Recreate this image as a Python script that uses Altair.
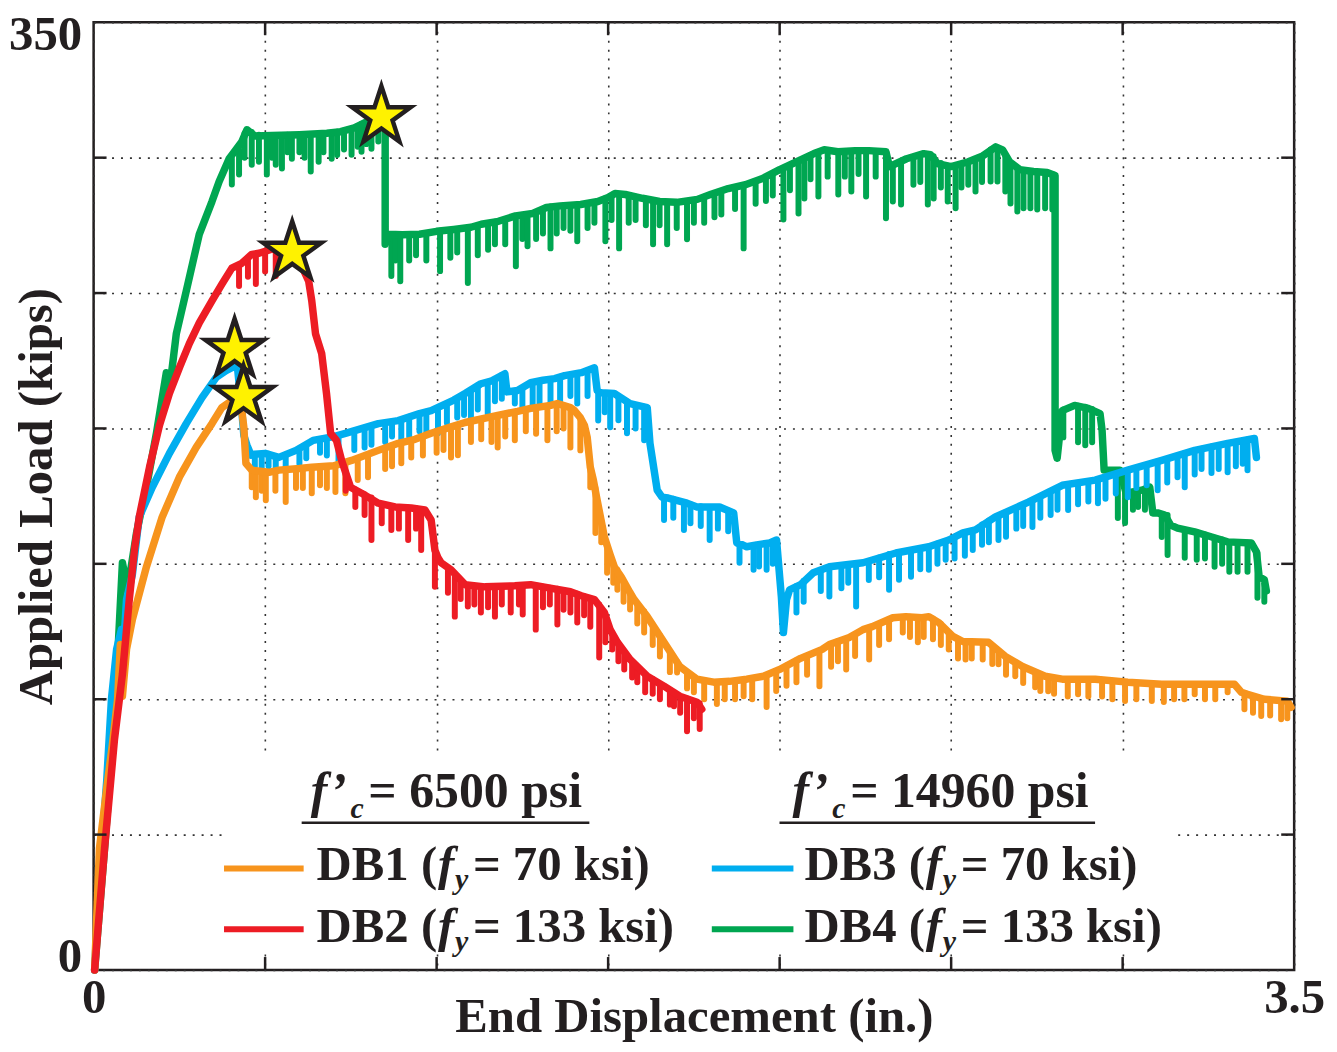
import altair as alt
import pandas as pd

FONT = "Liberation Serif"
INK = "#231F20"

# ---------------- data: end displacement [in.], applied load [kips] ----------------
# upper envelope of each test curve
db1_env = [(0.003,0),(0.017,44.9),(0.038,66.9),(0.055,83.5),(0.070,100.0),(0.078,120.2),(0.084,101.1),(0.096,118.4),
           (0.113,129.4),(0.154,148.9),(0.200,167.3),(0.250,182.0),(0.299,193.0),(0.345,201.8),(0.374,207.7),(0.403,210.3),
           (0.424,208.5),(0.432,206.6),(0.438,200.4),(0.444,187.1),(0.461,184.6),(0.511,183.8),(0.540,184.6),(0.600,185.2),
           (0.636,185.7),(0.700,186.2),(0.752,188.2),(0.830,191.9),(0.888,194.5),(0.937,196.0),(0.984,198.2),(1.040,200.5),
           (1.083,202.2),(1.178,204.8),(1.236,206.3),(1.274,207.4),(1.332,208.5),(1.352,209.2),(1.390,207.7),(1.402,206.6),
           (1.419,204.0),(1.431,201.1),(1.439,196.7),(1.448,185.7),(1.457,180.9),(1.468,173.5),(1.489,159.9),(1.506,153.3),
           (1.518,148.9),(1.538,145.2),(1.564,139.3),(1.576,136.8),(1.614,130.5),(1.663,121.0),(1.709,112.1),(1.759,107.4),
           (1.808,106.3),(1.854,106.6),(1.904,107.4),(1.953,108.5),(2.000,111.0),(2.061,115.1),(2.124,118.4),(2.145,120.2),
           (2.203,122.8),(2.243,125.7),(2.270,126.8),(2.330,130.1),(2.368,130.5),(2.415,130.1),(2.435,130.5),(2.464,128.3),
           (2.505,123.2),(2.534,121.3),(2.609,121.0),(2.658,115.8),(2.708,112.1),(2.774,108.5),(2.824,107.4),(2.920,107.4),
           (3.015,106.3),(3.114,105.5),(3.218,105.5),(3.326,105.5),(3.346,102.6),(3.364,101.8),(3.413,100.0),(3.480,99.3),
           (3.491,97.0)]
db2_env = [(0.003,0),(0.032,44.9),(0.061,85.3),(0.084,109.2),(0.104,136.8),(0.119,155.1),(0.133,167.3),(0.163,185.7),
           (0.192,201.1),(0.221,212.9),(0.250,222.4),(0.279,231.3),(0.308,239.0),(0.345,247.1),(0.374,253.3),(0.403,259.2),
           (0.432,261.0),(0.461,264.3),(0.482,264.7),(0.519,266.2),(0.540,266.5),(0.569,267.3),(0.589,265.4),(0.607,259.9),
           (0.627,254.4),(0.636,247.1),(0.647,234.9),(0.665,227.6),(0.679,212.9),(0.691,198.2),(0.708,195.6),(0.723,188.2),
           (0.749,178.3),(0.781,176.1),(0.830,172.4),(0.879,171.0),(0.926,170.6),(0.966,169.9),(0.984,166.2),(0.995,155.1),
           (1.004,152.2),(1.013,150.4),(1.042,147.8),(1.083,142.3),(1.141,141.5),(1.228,141.9),(1.274,142.3),(1.323,141.2),
           (1.390,139.7),(1.422,138.2),(1.460,136.8),(1.489,132.0),(1.506,125.7),(1.527,121.0),(1.564,114.7),(1.614,108.5),
           (1.663,104.8),(1.709,101.1),(1.759,98.9),(1.773,96.3)]
db3_env = [(0.003,0),(0.017,33.8),(0.038,69.5),(0.052,100.0),(0.067,118.4),(0.081,125.7),(0.087,118.4),(0.096,136.8),
           (0.113,146.0),(0.133,167.3),(0.171,178.3),(0.221,190.8),(0.270,201.8),(0.316,211.4),(0.357,218.8),(0.386,221.3),
           (0.403,222.4),(0.418,224.3),(0.432,206.6),(0.438,197.4),(0.447,193.8),(0.459,190.1),(0.470,190.5),(0.500,190.8),
           (0.540,189.3),(0.590,191.9),(0.640,195.6),(0.700,197.0),(0.734,198.2),(0.830,201.8),(0.888,202.9),(0.950,205.5),
           (0.984,206.6),(1.050,210.5),(1.083,212.9),(1.129,216.5),(1.161,217.6),(1.199,220.2),(1.205,213.5),(1.236,214.0),
           (1.274,216.9),(1.310,217.8),(1.344,218.4),(1.373,219.5),(1.422,220.6),(1.460,222.4),(1.468,214.0),(1.480,213.2),
           (1.518,212.9),(1.564,209.2),(1.614,207.7),(1.622,194.5),(1.643,177.2),(1.657,174.6),(1.675,174.3),(1.730,172.4),
           (1.759,171.0),(1.825,171.0),(1.866,168.8),(1.875,157.7),(1.892,157.0),(1.904,156.3),(1.933,157.0),(1.971,157.7),
           (1.991,158.8),(2.005,137.9),(2.011,124.6),(2.020,136.8),(2.029,140.4),(2.061,142.3),(2.098,146.7),(2.145,148.9),
           (2.243,150.4),(2.339,154.0),(2.435,156.3),(2.493,158.8),(2.534,161.4),(2.571,162.5),(2.629,167.3),(2.725,172.8),
           (2.824,179.0),(2.920,180.9),(3.015,184.6),(3.114,188.2),(3.210,191.9),(3.306,194.5),(3.384,196.3),(3.390,189.3)]
db4_env = [(0.003,0),(0.032,44.9),(0.061,92.6),(0.084,150.4),(0.099,140.4),(0.125,161.4),(0.154,178.3),(0.183,198.2),
           (0.212,220.6),(0.221,214.0),(0.241,234.9),(0.270,250.7),(0.308,271.7),(0.345,283.8),(0.366,291.2),(0.395,299.6),
           (0.412,302.5),(0.432,305.9),(0.447,310.3),(0.470,308.0),(0.520,308.2),(0.600,308.5),(0.680,309.0),(0.720,309.6),
           (0.760,311.0),(0.790,312.9),(0.820,313.6),(0.842,314.0),(0.850,312.5),(0.850,268.0),(0.860,271.7),(0.900,271.5),
           (0.950,271.7),(1.000,272.8),(1.050,273.5),(1.100,274.3),(1.130,275.4),(1.180,276.5),(1.230,278.5),(1.280,279.4),
           (1.320,281.6),(1.360,282.2),(1.420,282.7),(1.470,283.8),(1.500,285.3),(1.520,286.8),(1.550,286.4),(1.600,285.0),
           (1.650,283.8),(1.700,283.5),(1.760,284.6),(1.800,286.5),(1.850,288.6),(1.900,290.0),(1.950,292.3),(2.000,295.6),
           (2.050,298.5),(2.100,301.5),(2.130,302.9),(2.170,302.2),(2.220,302.6),(2.260,302.6),(2.310,302.2),(2.320,296.7),
           (2.370,299.6),(2.420,301.5),(2.440,301.1),(2.460,297.8),(2.500,296.7),(2.550,298.5),(2.590,300.5),(2.630,304.0),
           (2.650,302.9),(2.670,298.5),(2.700,295.6),(2.740,294.9),(2.780,294.5),(2.803,293.4),(2.803,191.9),(2.809,189.0),
           (2.824,206.6),(2.860,208.5),(2.900,207.4),(2.934,205.5),(2.940,199.3),(2.946,184.6),(2.992,184.6),(3.010,176.1),
           (3.056,177.2),(3.079,178.3),(3.088,168.8),(3.102,168.8),(3.123,168.0),(3.140,164.3),(3.160,163.2),(3.210,161.8),
           (3.260,159.9),(3.306,158.1),(3.375,157.7),(3.390,154.4),(3.398,145.2),(3.413,144.1),(3.419,140.0)]

# unloading dips: (displacement, load at top, load at bottom of the dip)
db1_dips = [(0.461,184.6,178.3),(0.473,184.3,174.6),(0.490,184.0,177.0),(0.502,184.0,173.5),(0.530,184.3,177.0),
            (0.560,184.8,172.8),(0.590,185.0,178.0),(0.610,185.3,178.0),(0.636,185.7,176.1),(0.660,185.9,179.0),
            (0.680,186.0,178.0),(0.705,186.3,176.5),(0.734,187.5,176.1),(0.770,189.0,181.0),(0.800,190.3,182.0),
            (0.850,192.8,185.0),(0.870,193.8,186.0),(0.897,194.7,187.1),(0.926,195.6,189.3),(0.960,197.0,190.0),
            (1.000,198.8,191.0),(1.020,199.7,192.0),(1.042,200.5,189.3),(1.062,201.3,190.1),(1.100,202.7,195.0),
            (1.130,203.4,196.0),(1.160,204.3,195.0),(1.178,204.8,193.0),(1.200,205.4,197.0),(1.228,206.0,195.6),
            (1.260,207.0,199.0),(1.290,207.7,198.0),(1.323,208.4,195.6),(1.350,209.0,199.0),(1.370,208.6,200.0),
            (1.390,207.7,193.0),(1.419,204.0,191.9),(1.448,185.7,178.3),(1.463,178.0,161.4),(1.480,166.0,158.0),
            (1.497,157.0,146.7),(1.515,150.0,143.0),(1.527,147.8,140.4),(1.545,143.5,136.0),(1.564,139.3,133.1),
            (1.585,135.0,128.0),(1.605,132.5,124.6),(1.630,127.5,120.0),(1.651,123.5,115.8),(1.680,117.0,110.0),
            (1.701,113.8,109.9),(1.730,110.0,104.0),(1.750,108.3,102.6),(1.780,106.8,100.0),(1.817,106.3,98.2),
            (1.840,106.5,100.0),(1.870,106.8,100.0),(1.895,107.2,101.1),(1.920,107.8,100.0),(1.962,108.9,97.1),
            (1.990,110.5,103.0),(2.020,112.5,105.0),(2.049,114.4,106.3),(2.080,116.0,109.0),(2.116,117.9,104.8),
            (2.150,120.5,112.0),(2.170,121.5,114.0),(2.194,122.3,111.0),(2.220,124.0,116.0),(2.261,126.4,114.7),
            (2.290,127.9,120.0),(2.319,129.5,122.1),(2.359,130.4,124.6),(2.380,130.5,123.0),(2.403,130.2,121.0),
            (2.420,130.0,123.0),(2.447,129.8,122.1),(2.470,127.9,120.0),(2.493,124.6,118.4),(2.520,122.3,115.0),
            (2.542,121.2,114.7),(2.560,121.2,115.0),(2.592,121.0,114.7),(2.620,119.5,113.0),(2.638,117.8,112.9),
            (2.660,115.5,109.0),(2.687,113.5,108.5),(2.710,112.0,106.0),(2.745,110.0,104.4),(2.760,109.3,103.0),
            (2.783,108.3,102.9),(2.800,107.8,102.0),(2.840,107.4,101.0),(2.870,107.4,101.8),(2.900,107.4,101.0),
            (2.940,107.1,101.0),(2.970,106.8,100.0),(3.007,106.3,99.3),(3.040,106.1,100.0),(3.085,105.7,99.3),
            (3.120,105.5,99.0),(3.150,105.5,100.0),(3.180,105.5,100.0),(3.210,105.5,101.8),(3.240,105.5,100.0),
            (3.270,105.5,100.0),(3.306,105.5,102.6),(3.355,101.6,96.3),(3.380,101.0,95.0),(3.404,100.2,93.8),
            (3.430,99.8,94.0),(3.462,99.5,92.6),(3.480,99.3,93.0)]
db2_dips = [(0.424,260.0,252.6),(0.450,263.0,256.0),(0.473,264.5,253.3),(0.500,265.5,258.0),(0.531,266.3,256.3),
            (0.550,266.8,259.0),(0.735,184.0,177.0),(0.763,177.5,171.0),(0.790,175.7,168.0),(0.810,174.5,158.8),
            (0.840,172.0,165.0),(0.868,171.3,162.5),(0.890,170.9,163.0),(0.917,170.8,158.8),(0.940,170.5,163.0),
            (0.955,170.2,155.1),(0.995,155.1,141.5),(1.033,148.5,139.3),(1.053,146.0,130.5),(1.070,143.5,137.0),
            (1.091,142.2,134.2),(1.110,141.8,135.0),(1.129,141.6,132.0),(1.150,141.5,134.0),(1.170,141.6,130.5),
            (1.190,141.6,135.0),(1.216,141.8,132.0),(1.240,142.0,135.0),(1.251,142.0,131.3),(1.289,142.0,125.7),
            (1.310,141.5,134.0),(1.330,141.2,135.0),(1.352,140.8,127.6),(1.370,140.3,133.0),(1.390,139.7,132.0),
            (1.410,139.0,128.3),(1.430,138.0,131.0),(1.448,137.3,126.8),(1.474,135.0,115.4),(1.492,130.5,121.0),
            (1.512,124.5,118.4),(1.530,120.5,114.0),(1.547,117.5,111.0),(1.570,114.0,108.0),(1.585,111.5,106.3),
            (1.608,109.0,102.6),(1.630,107.5,102.0),(1.651,105.5,100.0),(1.680,103.5,98.0),(1.692,102.5,97.4),
            (1.710,101.0,95.0),(1.730,100.3,88.2),(1.750,99.3,93.0),(1.767,98.5,89.0)]
db3_dips = [(0.470,190.4,186.0),(0.490,190.3,185.7),(0.510,190.7,186.0),(0.531,189.5,184.5),(0.560,190.4,185.0),
            (0.600,192.5,187.0),(0.620,194.0,189.0),(0.660,196.0,191.0),(0.680,196.5,190.0),(0.714,197.6,188.2),
            (0.760,199.0,192.0),(0.790,200.0,193.0),(0.810,201.0,194.0),(0.850,202.1,195.0),(0.870,202.6,197.0),
            (0.897,203.2,195.6),(0.920,204.3,197.0),(0.950,205.5,199.0),(0.970,206.2,199.0),(1.004,207.3,198.2),
            (1.030,209.2,202.0),(1.060,211.0,204.0),(1.080,212.7,205.0),(1.100,213.5,203.7),(1.120,216.0,207.0),
            (1.149,217.2,205.5),(1.170,218.3,210.0),(1.190,219.7,211.0),(1.228,213.8,209.2),(1.250,215.0,207.0),
            (1.280,217.0,207.4),(1.300,217.5,209.0),(1.332,218.2,208.5),(1.360,219.1,210.0),(1.390,219.8,212.0),
            (1.410,220.2,209.2),(1.440,221.5,212.0),(1.471,213.8,202.9),(1.490,213.1,206.0),(1.506,213.0,200.4),
            (1.530,211.5,203.0),(1.555,210.0,198.2),(1.580,208.7,200.0),(1.605,208.0,195.6),(1.663,174.5,166.2),
            (1.690,174.0,167.0),(1.721,172.7,162.5),(1.740,172.0,165.0),(1.770,171.3,164.0),(1.796,171.0,158.8),
            (1.820,171.0,163.0),(1.850,169.7,162.0),(1.883,157.3,150.4),(1.924,156.8,147.8),(1.940,157.2,149.0),
            (1.962,157.4,147.8),(1.980,158.2,150.0),(2.049,141.8,132.0),(2.070,143.8,136.0),(2.120,147.6,140.0),
            (2.145,148.9,137.9),(2.180,149.5,141.0),(2.200,149.8,143.0),(2.223,150.0,134.2),(2.260,151.0,144.0),
            (2.290,152.3,145.0),(2.319,153.6,140.4),(2.348,154.1,144.1),(2.383,155.0,145.2),(2.410,155.5,148.0),
            (2.435,156.3,147.8),(2.460,157.5,150.0),(2.484,158.2,151.5),(2.510,159.8,152.0),(2.540,161.4,153.0),
            (2.563,162.2,155.1),(2.590,164.5,157.0),(2.610,166.0,158.0),(2.638,167.7,158.8),(2.660,168.8,160.0),
            (2.690,170.5,163.0),(2.710,171.8,164.0),(2.737,173.4,163.6),(2.760,174.5,167.0),(2.790,176.5,168.0),
            (2.810,178.0,170.0),(2.841,179.2,169.9),(2.870,179.8,172.0),(2.900,180.5,173.0),(2.928,181.2,172.4),
            (2.950,182.0,174.0),(2.980,183.2,176.0),(3.015,184.6,174.6),(3.040,185.5,178.0),(3.070,186.6,179.0),
            (3.102,187.9,177.2),(3.130,188.8,180.0),(3.160,190.0,182.0),(3.181,190.5,178.3),(3.210,191.9,183.0),
            (3.230,192.5,185.0),(3.259,193.3,183.5),(3.280,193.7,185.0),(3.306,194.5,183.8),(3.330,195.0,186.0),
            (3.350,195.5,187.0),(3.364,195.9,184.6)]
db4_dips = [(0.403,299.6,290.1),(0.424,303.0,293.8),(0.440,309.0,300.0),(0.461,309.5,297.4),(0.482,308.5,298.5),
            (0.505,308.2,293.8),(0.520,308.2,300.0),(0.531,308.2,297.4),(0.549,308.3,296.0),(0.565,308.5,302.0),
            (0.578,308.4,299.6),(0.600,308.5,302.0),(0.615,308.6,300.0),(0.633,308.7,294.9),(0.656,308.8,298.5),
            (0.670,309.0,302.0),(0.694,309.3,299.6),(0.710,309.6,301.0),(0.730,310.0,303.0),(0.752,310.8,301.1),
            (0.770,311.5,304.0),(0.781,312.5,302.2),(0.795,313.0,305.0),(0.810,313.3,303.3),(0.830,313.8,306.0),
            (0.868,271.5,256.3),(0.880,271.5,262.0),(0.894,271.5,254.4),(0.920,271.6,262.0),(0.940,271.7,264.0),
            (0.970,272.2,262.0),(1.010,273.0,258.1),(1.040,273.3,263.0),(1.060,273.6,265.0),(1.091,274.0,253.7),
            (1.120,275.0,264.0),(1.150,275.8,266.0),(1.170,276.3,268.0),(1.200,277.3,268.0),(1.231,278.4,259.9),
            (1.250,278.8,270.0),(1.265,279.0,267.3),(1.290,279.8,270.0),(1.310,280.9,272.0),(1.332,282.0,266.5),
            (1.350,282.1,272.0),(1.370,282.3,274.0),(1.390,282.5,273.0),(1.410,282.6,269.1),(1.440,283.2,274.0),
            (1.460,283.6,276.0),(1.492,285.0,269.1),(1.510,286.0,277.0),(1.532,286.6,266.5),(1.560,286.0,276.0),
            (1.580,285.6,277.0),(1.610,284.8,275.0),(1.631,284.3,268.0),(1.650,283.8,275.0),(1.672,283.6,268.0),
            (1.700,283.5,274.0),(1.730,284.0,269.9),(1.750,284.4,276.0),(1.780,285.5,276.0),(1.810,286.8,278.0),
            (1.830,287.6,279.0),(1.870,289.0,281.0),(1.895,289.8,266.5),(1.930,291.3,283.0),(1.960,292.8,284.0),
            (1.980,294.0,286.0),(2.011,296.2,277.2),(2.030,297.2,288.0),(2.055,298.8,279.4),(2.072,299.5,284.9),
            (2.090,301.0,292.0),(2.113,302.0,285.7),(2.140,302.8,293.0),(2.171,302.2,286.4),(2.190,302.3,293.0),
            (2.209,302.5,287.5),(2.230,302.6,294.0),(2.252,302.6,285.7),(2.280,302.5,293.0),(2.310,302.2,277.6),
            (2.330,297.0,283.8),(2.354,298.5,282.7),(2.390,300.3,290.0),(2.410,301.2,291.0),(2.432,301.3,282.7),
            (2.449,300.5,284.9),(2.470,298.0,289.0),(2.490,297.0,283.8),(2.513,297.0,281.3),(2.530,297.5,289.0),
            (2.550,298.5,290.0),(2.571,299.5,287.5),(2.590,300.5,291.0),(2.615,303.0,291.2),(2.635,303.8,291.2),
            (2.658,300.5,287.5),(2.673,297.5,283.1),(2.693,296.0,280.1),(2.711,295.4,281.3),(2.731,295.0,281.3),
            (2.751,294.8,280.9),(2.774,294.5,281.3),(2.795,294.0,280.9),(2.827,207.0,196.7),(2.870,208.4,194.9),
            (2.891,208.0,193.8),(2.911,207.2,194.9),(2.986,184.6,166.9),(3.007,180.0,165.1),(3.030,176.5,170.0),
            (3.045,177.0,171.0),(3.065,177.5,170.0),(3.114,168.4,159.9),(3.131,168.0,153.3),(3.181,162.5,152.2),
            (3.216,161.7,151.5),(3.240,160.8,152.0),(3.268,159.6,148.9),(3.290,159.0,150.0),(3.311,158.0,147.1),
            (3.335,158.0,147.1),(3.364,157.8,147.1),(3.393,154.0,137.5),(3.413,144.0,136.0)]

# failure stars (drawn DB3, DB1, DB2, DB4)
star_x = [0.411, 0.437, 0.579, 0.839]
star_y = [229.2, 211.8, 265.1, 315.1]

x_grid = [0, 0.5, 1.0, 1.5, 2.0, 2.5, 3.0, 3.5]
y_grid = [0, 50, 100, 150, 200, 250, 300, 350]
x_inner = [0.5, 1.0, 1.5, 2.0, 2.5, 3.0]
y_inner = [50, 100, 150, 200, 250, 300]

series_colors = {"DB1": "#F7941D", "DB2": "#ED1C24", "DB3": "#00AEEF", "DB4": "#00A651"}
legend_names = ["DB1 (", "DB2 (", "DB3 (", "DB4 ("]
legend_rest = ["= 70 ksi)", "= 133 ksi)", "= 70 ksi)", "= 133 ksi)"]
header_rest = ["= 6500 psi", "= 14960 psi"]

W, H = 1206, 952
FS = 49

# ---------------- scales / axes ----------------
xs = alt.Scale(domain=[0, 3.5], nice=False, zero=False)
ys = alt.Scale(domain=[0, 350], nice=False, zero=False)

grid_style = dict(grid=True, ticks=False, domain=False, gridDash=[2, 7], gridColor="#333333",
                  gridWidth=1.6, gridOpacity=1, labelFont=FONT, labelFontSize=FS,
                  labelFontWeight="bold", labelColor=INK, titleFont=FONT, titleFontSize=FS,
                  titleFontWeight="bold", titleColor=INK)
x_axis = alt.Axis(values=x_grid,
                  labelExpr="datum.value == 0 ? '0' : (datum.value == 3.5 ? '3.5' : '')",
                  labelFlush=False, labelPadding=4,
                  titleX=W / 2, titleY=62, titleAlign="center", titleBaseline="alphabetic",
                  **grid_style)
y_axis = alt.Axis(values=y_grid,
                  labelExpr="datum.value == 0 ? '0' : (datum.value == 350 ? '350' : '')",
                  labelFlush=True, labelFlushOffset=12, labelPadding=12,
                  titleAngle=270, titleX=-42, titleY=H / 2, titleAlign="center",
                  titleBaseline="alphabetic", **grid_style)

X = alt.X("x:Q", scale=xs, axis=x_axis, title="End Displacement (in.)")
Y = alt.Y("y:Q", scale=ys, axis=y_axis, title="Applied Load (kips)")
Y2 = alt.Y2("y2:Q")


def env_layer(points, color):
    df = pd.DataFrame({"x": [p[0] for p in points], "y": [p[1] for p in points],
                       "i": list(range(len(points)))})
    return alt.Chart(df).mark_line(color=color, strokeWidth=7.5, strokeJoin="round",
                                   strokeCap="round").encode(x=X, y=Y, order="i:Q")


def dip_layer(dips, color):
    df = pd.DataFrame({"x": [d[0] for d in dips], "y": [d[1] for d in dips],
                       "y2": [d[2] for d in dips]})
    return alt.Chart(df).mark_rule(color=color, strokeWidth=6, strokeCap="round").encode(
        x=X, y=Y, y2=Y2)


one = pd.DataFrame({"k": [0]})

# white legend panel (covers the grid)
panel = alt.Chart(one).mark_rect(color="white").encode(
    x=alt.value(129), x2=alt.value(1088), y=alt.value(737), y2=alt.value(935))

curves = []
for env, dips, key in [(db4_env, db4_dips, "DB4"), (db3_env, db3_dips, "DB3"),
                       (db1_env, db1_dips, "DB1"), (db2_env, db2_dips, "DB2")]:
    curves.append(dip_layer(dips, series_colors[key]))
    curves.append(env_layer(env, series_colors[key]))

STAR = ("M0,-1L0.2245,-0.309L0.9511,-0.309L0.3633,0.118L0.5878,0.809L0,0.382"
        "L-0.5878,0.809L-0.3633,0.118L-0.9511,-0.309L-0.2245,-0.309Z")
stars = alt.Chart(pd.DataFrame({"x": star_x, "y": star_y, "i": [0, 1, 2, 3]})).mark_point(
    shape=STAR, filled=True, fill="#FFF200", stroke=INK, strokeWidth=4.5, size=3800, opacity=1
).encode(x=X, y=Y, order="i:Q")

# inward ticks on all four sides
TL = 13
tick_style = dict(color=INK, strokeWidth=2.5)
ticks = [
    alt.Chart(pd.DataFrame({"y": y_inner})).mark_rule(**tick_style).encode(y=Y, x=alt.value(0), x2=alt.value(TL)),
    alt.Chart(pd.DataFrame({"y": y_inner})).mark_rule(**tick_style).encode(y=Y, x=alt.value(W - TL), x2=alt.value(W)),
    alt.Chart(pd.DataFrame({"x": x_inner})).mark_rule(**tick_style).encode(x=X, y=alt.value(H - TL), y2=alt.value(H)),
    alt.Chart(pd.DataFrame({"x": x_inner})).mark_rule(**tick_style).encode(x=X, y=alt.value(0), y2=alt.value(TL)),
]


def text_layer(s, x, y, size, italic=False):
    return alt.Chart(pd.DataFrame({"t": [s]})).mark_text(
        font=FONT, fontSize=size, fontWeight="bold",
        fontStyle="italic" if italic else "normal",
        align="left", baseline="alphabetic", color=INK
    ).encode(x=alt.value(x), y=alt.value(y), text="t:N")


def rule_px(x1, x2, y, color, width):
    return alt.Chart(one).mark_rule(color=color, strokeWidth=width).encode(
        x=alt.value(x1), x2=alt.value(x2), y=alt.value(y))


legend = []
LS, SS, HS = 49, 30, 50
for hx, rest in zip([218, 702], header_rest):
    legend.append(text_layer("f\u2019", hx, 788, HS, italic=True))
    legend.append(text_layer("c", hx + 40, 799, SS, italic=True))
    legend.append(text_layer(rest, hx + 58, 788, HS))
legend.append(rule_px(209, 498, 804, INK, 2.5))
legend.append(rule_px(689, 1006, 804, INK, 2.5))
entries = [(0, 131, 211, 224, 850, 862), (1, 131, 211, 224, 911, 924),
           (2, 621, 703, 714, 850, 862), (3, 621, 703, 714, 911, 924)]
for idx, sx1, sx2, tx, sy, by in entries:
    key = legend_names[idx][:3]
    legend.append(rule_px(sx1, sx2, sy, series_colors[key], 6))
    legend.append(text_layer(legend_names[idx], tx, by, LS))
    legend.append(text_layer("f", tx + 122, by, LS, italic=True))
    legend.append(text_layer("y", tx + 139, by + 9, SS, italic=True))
    legend.append(text_layer(legend_rest[idx], tx + 157, by, LS))

chart = alt.layer(panel, *curves, stars, *ticks, *legend).properties(
    width=W, height=H,
    padding={"left": 86, "top": 12, "right": 35, "bottom": 72},
    autosize=alt.AutoSizeParams(type="none"),
    background="white",
).configure_view(stroke=INK, strokeWidth=2.5)

chart.save("out.html", embed_options={"renderer": "svg", "actions": False})
